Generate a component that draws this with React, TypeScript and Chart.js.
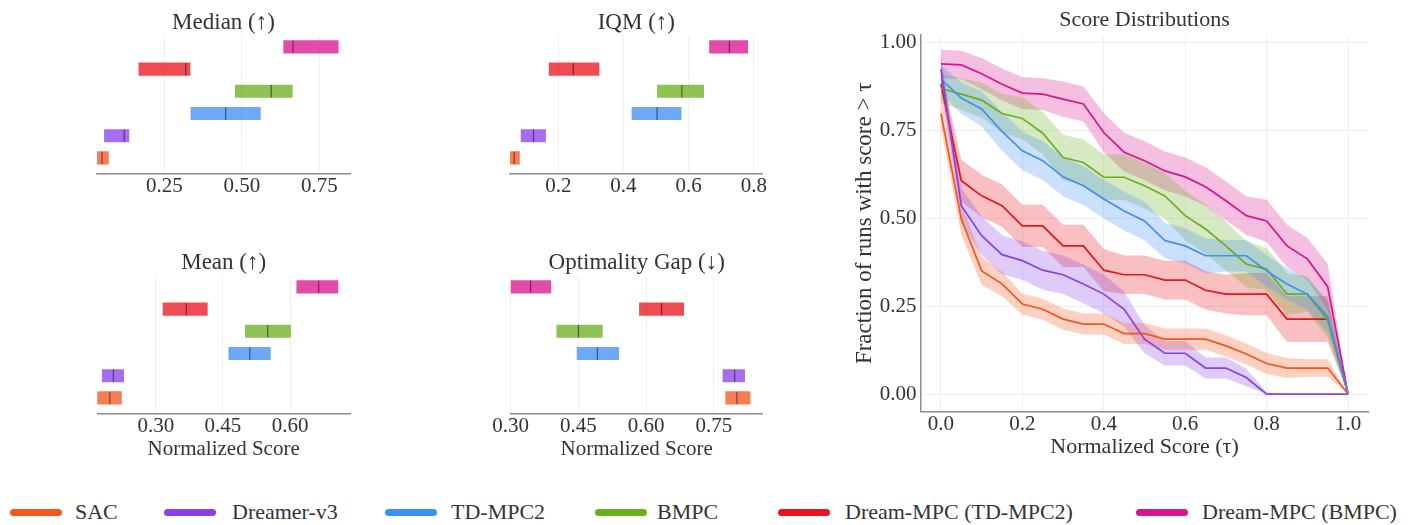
import React, { useEffect, useRef } from 'react';
import { Chart, registerables } from 'chart.js';

Chart.register(...registerables);

// ---------------- Data ----------------
const methods = ['SAC', 'Dreamer-v3', 'TD-MPC2', 'BMPC', 'Dream-MPC (TD-MPC2)', 'Dream-MPC (BMPC)'];
const methodColors = ['#F4561D', '#8A3FE8', '#3F8EF5', '#6AAF1E', '#E8131B', '#D8148F'];

// Interval estimates (order follows `methods`, bottom row = SAC)
const medianLo = [0.033, 0.057, 0.336, 0.479, 0.168, 0.635];
const medianMid = [0.049, 0.121, 0.448, 0.595, 0.319, 0.665];
const medianHi = [0.07, 0.136, 0.56, 0.663, 0.333, 0.811];

const iqmLo = [0.052, 0.086, 0.426, 0.504, 0.172, 0.664];
const iqmMid = [0.065, 0.124, 0.503, 0.579, 0.246, 0.725];
const iqmHi = [0.081, 0.161, 0.577, 0.646, 0.325, 0.781];

const meanLo = [0.169, 0.18, 0.463, 0.5, 0.316, 0.615];
const meanMid = [0.197, 0.205, 0.51, 0.55, 0.368, 0.664];
const meanHi = [0.223, 0.228, 0.556, 0.601, 0.415, 0.707];

const gapLo = [0.776, 0.77, 0.447, 0.402, 0.585, 0.3];
const gapMid = [0.801, 0.796, 0.492, 0.45, 0.634, 0.344];
const gapHi = [0.83, 0.818, 0.539, 0.503, 0.683, 0.389];

const medianTicks = [0.25, 0.5, 0.75];
const iqmTicks = [0.2, 0.4, 0.6, 0.8];
const meanTicks = [0.3, 0.45, 0.6];
const gapTicks = [0.3, 0.45, 0.6, 0.75];

// Score distributions
const tau = [0, 0.05, 0.1, 0.15, 0.2, 0.25, 0.3, 0.35, 0.4, 0.45, 0.5, 0.55, 0.6, 0.65, 0.7, 0.75, 0.8, 0.85, 0.9, 0.95, 1.0];

const sacScore = [0.797, 0.497, 0.35, 0.313, 0.256, 0.241, 0.213, 0.199, 0.199, 0.172, 0.172, 0.156, 0.156, 0.156, 0.137, 0.114, 0.087, 0.074, 0.074, 0.074, 0.0];
const sacCI = [0.04, 0.045, 0.04, 0.035, 0.03, 0.03, 0.03, 0.03, 0.03, 0.03, 0.03, 0.03, 0.03, 0.03, 0.03, 0.03, 0.03, 0.028, 0.025, 0.025, 0.0];

const dreamerScore = [0.923, 0.535, 0.45, 0.396, 0.379, 0.352, 0.339, 0.313, 0.284, 0.241, 0.156, 0.116, 0.116, 0.074, 0.074, 0.047, 0.0, 0.0, 0.0, 0.0, 0.0];
const dreamerCI = [0.04, 0.05, 0.055, 0.055, 0.055, 0.055, 0.055, 0.055, 0.055, 0.05, 0.04, 0.035, 0.035, 0.03, 0.03, 0.025, 0.005, 0.0, 0.0, 0.0, 0.0];

const tdmpcScore = [0.895, 0.841, 0.81, 0.746, 0.691, 0.663, 0.617, 0.592, 0.554, 0.52, 0.492, 0.436, 0.421, 0.393, 0.393, 0.393, 0.35, 0.313, 0.284, 0.22, 0.0];
const tdmpcCI = [0.04, 0.045, 0.05, 0.055, 0.055, 0.055, 0.055, 0.055, 0.055, 0.055, 0.055, 0.05, 0.05, 0.05, 0.045, 0.045, 0.045, 0.045, 0.045, 0.045, 0.0];

const bmpcScore = [0.868, 0.852, 0.835, 0.797, 0.783, 0.741, 0.672, 0.658, 0.616, 0.616, 0.592, 0.563, 0.507, 0.469, 0.421, 0.369, 0.355, 0.284, 0.284, 0.21, 0.0];
const bmpcCI = [0.04, 0.045, 0.05, 0.055, 0.06, 0.06, 0.065, 0.065, 0.065, 0.065, 0.065, 0.065, 0.07, 0.07, 0.07, 0.065, 0.06, 0.06, 0.05, 0.05, 0.0];

const dreamTdScore = [0.881, 0.606, 0.563, 0.535, 0.478, 0.478, 0.421, 0.421, 0.352, 0.339, 0.339, 0.324, 0.324, 0.295, 0.284, 0.284, 0.284, 0.213, 0.213, 0.213, 0.0];
const dreamTdCI = [0.04, 0.06, 0.06, 0.06, 0.06, 0.06, 0.06, 0.06, 0.06, 0.055, 0.055, 0.055, 0.055, 0.055, 0.055, 0.06, 0.06, 0.065, 0.065, 0.065, 0.0];

const dreamBmpcScore = [0.938, 0.935, 0.91, 0.88, 0.855, 0.852, 0.838, 0.824, 0.743, 0.687, 0.663, 0.634, 0.617, 0.589, 0.549, 0.507, 0.492, 0.421, 0.384, 0.305, 0.0];
const dreamBmpcCI = [0.04, 0.04, 0.045, 0.045, 0.045, 0.045, 0.05, 0.05, 0.055, 0.055, 0.055, 0.055, 0.055, 0.055, 0.055, 0.055, 0.06, 0.06, 0.06, 0.065, 0.0];

const scoreTicksX = [0, 0.2, 0.4, 0.6, 0.8, 1.0];
const scoreTicksY = [0, 0.25, 0.5, 0.75, 1.0];

// ---------------- Style ----------------
const FONT = "'Liberation Serif', 'Times New Roman', serif";
const TEXT = '#333333';
const GRID = '#efefef';
const AXIS = '#8e8e8e';

function rgba(hex: string, a: number) {
  const n = parseInt(hex.slice(1), 16);
  return `rgba(${(n >> 16) & 255},${(n >> 8) & 255},${n & 255},${a})`;
}

type PanelProps = {
  left: number;
  top: number;
  x0: number;
  x1: number;
  title: string;
  lo: number[];
  mid: number[];
  hi: number[];
  xMin: number;
  xMax: number;
  ticks: number[];
  decimals: number;
  xTitle?: string;
};

const PANEL_W = 320;

function IntervalPanel(p: PanelProps) {
  const ref = useRef<HTMLCanvasElement>(null);
  const height = p.xTitle ? 225 : 205;
  const axisH = p.xTitle ? 49 : 30;
  const areaBottom = 173.5;
  useEffect(() => {
    const chart = new Chart(ref.current!, {
      type: 'bar',
      data: {
        datasets: [
          {
            type: 'scatter',
            data: p.mid.map((m, i) => ({ x: m, y: i })),
            pointStyle: 'line',
            rotation: 90,
            radius: 6.2,
            borderWidth: 1.2,
            borderColor: 'rgba(40,20,30,0.6)',
            backgroundColor: 'rgba(40,20,30,0.6)',
          } as any,
          {
            type: 'bar',
            data: p.lo.map((l, i) => ({ x: [l, p.hi[i]], y: i })),
            backgroundColor: methodColors.map((c) => rgba(c, 0.76)),
            borderWidth: 0,
            borderSkipped: false,
            barThickness: 12.5,
          } as any,
        ],
      },
      options: {
        indexAxis: 'y',
        responsive: false,
        animation: false,
        events: [],
        layout: {
          padding: {
            left: p.x0 - p.left,
            right: p.left + PANEL_W - p.x1,
            top: 9.3,
            bottom: height - areaBottom - axisH,
          },
        },
        plugins: {
          legend: { display: false },
          tooltip: { enabled: false },
          title: {
            display: true,
            text: p.title,
            fullSize: false,
            color: TEXT,
            font: { family: FONT, size: 23, weight: 'normal', lineHeight: 1.15 },
            padding: { top: 0, bottom: 0 },
          },
        },
        scales: {
          x: {
            type: 'linear',
            min: p.xMin,
            max: p.xMax,
            beginAtZero: false,
            afterBuildTicks: (s: any) => {
              s.ticks = p.ticks.map((v) => ({ value: v }));
            },
            afterFit: (s: any) => {
              s.height = axisH;
            },
            ticks: {
              callback: (v: any) => Number(v).toFixed(p.decimals),
              color: TEXT,
              font: { family: FONT, size: 21 },
              padding: 0,
              maxRotation: 0,
            },
            grid: { color: GRID, lineWidth: 1, drawTicks: false },
            border: { color: AXIS, width: 1.5 },
            title: {
              display: !!p.xTitle,
              text: p.xTitle || '',
              color: TEXT,
              font: { family: FONT, size: 21 },
              padding: { top: 0, bottom: 0 },
            },
          },
          y: {
            type: 'linear',
            min: -0.7,
            max: 5.5,
            offset: false,
            display: false,
          },
        },
      } as any,
    });
    return () => chart.destroy();
  }, []);
  return (
    <div style={{ position: 'absolute', left: p.left, top: p.top, width: PANEL_W, height }}>
      <canvas ref={ref} width={PANEL_W} height={height} />
    </div>
  );
}

function ScorePanel() {
  const ref = useRef<HTMLCanvasElement>(null);
  const left = 840;
  const W = 572;
  const H = 470;
  const areaLeft = 920.6;
  const areaRight = 1368.4;
  const areaBottom = 411.7;
  const axisH = 48.5;
  useEffect(() => {
    const series = [
      { m: sacScore, c: sacCI, col: methodColors[0] },
      { m: dreamerScore, c: dreamerCI, col: methodColors[1] },
      { m: tdmpcScore, c: tdmpcCI, col: methodColors[2] },
      { m: bmpcScore, c: bmpcCI, col: methodColors[3] },
      { m: dreamTdScore, c: dreamTdCI, col: methodColors[4] },
      { m: dreamBmpcScore, c: dreamBmpcCI, col: methodColors[5] },
    ];
    const datasets: any[] = [];
    series.forEach((s) => {
      datasets.push({
        data: tau.map((t, k) => ({ x: t, y: Math.max(0, s.m[k] - s.c[k]) })),
        borderWidth: 0,
        pointRadius: 0,
        fill: false,
        order: 2,
      });
      datasets.push({
        data: tau.map((t, k) => ({ x: t, y: Math.min(1, s.m[k] + s.c[k]) })),
        borderWidth: 0,
        pointRadius: 0,
        fill: '-1',
        backgroundColor: rgba(s.col, 0.27),
        order: 2,
      });
    });
    series.forEach((s) => {
      datasets.push({
        data: tau.map((t, k) => ({ x: t, y: s.m[k] })),
        borderColor: s.col,
        borderWidth: 1.7,
        pointRadius: 0,
        fill: false,
        tension: 0,
        order: 0,
      });
    });
    const chart = new Chart(ref.current!, {
      type: 'line',
      data: { datasets },
      options: {
        responsive: false,
        animation: false,
        events: [],
        layout: {
          padding: { left: 0, right: left + W - areaRight, top: 7.5, bottom: H - areaBottom - axisH },
        },
        plugins: {
          legend: { display: false },
          tooltip: { enabled: false },
          title: {
            display: true,
            text: 'Score Distributions',
            fullSize: false,
            color: TEXT,
            font: { family: FONT, size: 22, weight: 'normal' },
            padding: { top: 0, bottom: 1.1 },
          },
        },
        scales: {
          x: {
            type: 'linear',
            min: -0.05,
            max: 1.05,
            afterBuildTicks: (s: any) => {
              s.ticks = scoreTicksX.map((v) => ({ value: v }));
            },
            afterFit: (s: any) => {
              s.height = axisH;
            },
            ticks: {
              callback: (v: any) => Number(v).toFixed(1),
              color: TEXT,
              font: { family: FONT, size: 21 },
              padding: 0,
              maxRotation: 0,
            },
            grid: { color: GRID, lineWidth: 1, drawTicks: false },
            border: { color: AXIS, width: 1.5 },
            title: {
              display: true,
              text: 'Normalized Score (τ)',
              color: TEXT,
              font: { family: FONT, size: 22 },
              padding: { top: 0, bottom: 0 },
            },
          },
          y: {
            type: 'linear',
            min: -0.05,
            max: 1.02,
            afterBuildTicks: (s: any) => {
              s.ticks = scoreTicksY.map((v) => ({ value: v }));
            },
            afterFit: (s: any) => {
              s.width = areaLeft - left;
            },
            ticks: {
              callback: (v: any) => Number(v).toFixed(2),
              color: TEXT,
              font: { family: FONT, size: 21 },
              padding: 4,
            },
            grid: { color: GRID, lineWidth: 1, drawTicks: false },
            border: { color: AXIS, width: 1.5 },
            title: {
              display: true,
              text: 'Fraction of runs with score > τ',
              color: TEXT,
              font: { family: FONT, size: 23 },
              padding: { top: 11, bottom: 0 },
            },
          },
        },
      } as any,
    });
    return () => chart.destroy();
  }, []);
  return (
    <div style={{ position: 'absolute', left, top: 0, width: W, height: H }}>
      <canvas ref={ref} width={W} height={H} />
    </div>
  );
}

const legendLineLeft = [10, 164, 385, 595, 778, 1136];
const legendTextLeft = [75, 232, 451, 657, 845, 1202];

function Legend() {
  return (
    <>
      {methods.map((m, i) => (
        <React.Fragment key={m}>
          <div
            style={{
              position: 'absolute',
              left: legendLineLeft[i],
              top: 508.5,
              width: 52,
              height: 7,
              borderRadius: 4,
              background: methodColors[i],
            }}
          />
          <div
            style={{
              position: 'absolute',
              left: legendTextLeft[i],
              top: 498,
              height: 28,
              lineHeight: '28px',
              fontFamily: FONT,
              fontSize: 22,
              color: TEXT,
              whiteSpace: 'nowrap',
            }}
          >
            {m}
          </div>
        </React.Fragment>
      ))}
    </>
  );
}

export default function App() {
  return (
    <div style={{ position: 'fixed', left: 0, top: 0, width: 1412, height: 525, background: '#fff', overflow: 'hidden' }}>
      <IntervalPanel left={60} top={0} x0={97} x1={350} title="Median (↑)" lo={medianLo} mid={medianMid} hi={medianHi} xMin={0.033} xMax={0.849} ticks={medianTicks} decimals={2} />
      <IntervalPanel left={470} top={0} x0={510} x1={762.7} title="IQM (↑)" lo={iqmLo} mid={iqmMid} hi={iqmHi} xMin={0.052} xMax={0.827} ticks={iqmTicks} decimals={1} />
      <IntervalPanel left={60} top={240} x0={97.3} x1={350} title="Mean (↑)" lo={meanLo} mid={meanMid} hi={meanHi} xMin={0.169} xMax={0.734} ticks={meanTicks} decimals={2} xTitle="Normalized Score" />
      <IntervalPanel left={470} top={240} x0={510.7} x1={762.7} title="Optimality Gap (↓)" lo={gapLo} mid={gapMid} hi={gapHi} xMin={0.3} xMax={0.858} ticks={gapTicks} decimals={2} xTitle="Normalized Score" />
      <ScorePanel />
      <Legend />
    </div>
  );
}
